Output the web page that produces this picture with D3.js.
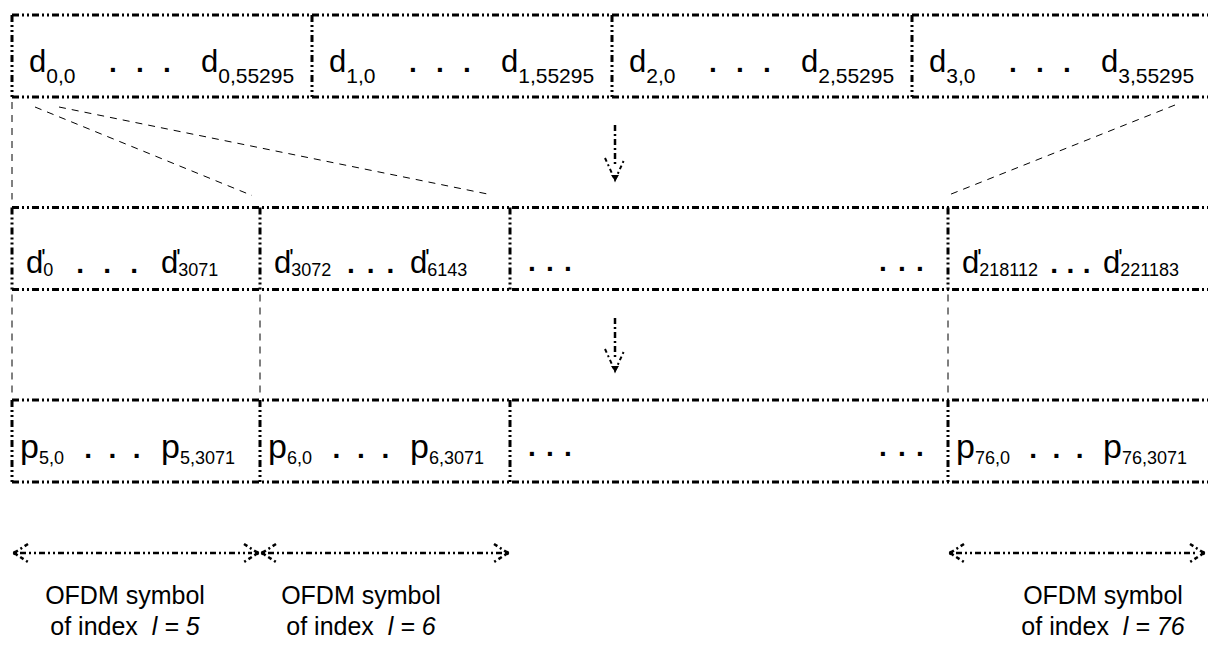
<!DOCTYPE html>
<html>
<head>
<meta charset="utf-8">
<style>
    html, body { margin: 0; padding: 0; background: #fff; }
    svg text { font-family: "Liberation Sans", Arial, sans-serif; fill: #000; }
</style>
</head>
<body>
<svg width="1208" height="657"></svg>
<script src="https://cdn.jsdelivr.net/npm/d3@7/dist/d3.min.js"></script>
<script>
    // --- data ---
    var codewords = [0, 1, 2, 3];
    var codewordLast = "55295";
    var slots = [0, 1, 2, 3];                 // slot 2 is the "..." gap
    var symbolIdx = ["5", "6", null, "76"];
    var interFirst = ["0", "3072", null, "218112"];
    var interLast = ["3071", "6143", null, "221183"];
    var subcarrierLast = "3071";

    // --- layout ---
    var svg = d3.select("svg");
    var W = 1208;
    var x0 = d3.scaleBand().domain(codewords).range([12, 1212]);
    var slotX = d3.scaleOrdinal().domain([0, 1, 2, 3, 4]).range([12, 260, 510, 948, 1212]);
    var rowY = d3.scalePoint().domain(["cw", "dp", "p"]).range([15, 400]);
    var rowH = 82;

    var boxDash = "7,3,2,3,2,3";
    var g = svg.append("g");

    function hline(x1, x2, y, w, dash) {
        g.append("line").attr("x1", x1).attr("x2", x2).attr("y1", y).attr("y2", y)
            .attr("stroke", "#000").attr("stroke-width", w).attr("stroke-dasharray", dash);
    }
    function vline(x, y1, y2, w, dash) {
        g.append("line").attr("x1", x).attr("x2", x).attr("y1", y1).attr("y2", y2)
            .attr("stroke", "#000").attr("stroke-width", w).attr("stroke-dasharray", dash);
    }

    function row(key, edges) {
        var y = rowY(key);
        hline(12, 1212, y, 3, boxDash);
        hline(12, 1212, y + rowH, 3, boxDash);
        edges.forEach(function (x) { vline(x, y, y + rowH, 3, boxDash); });
    }

    function sym(x, y, base, sub, o) {
        var t = g.append("text").attr("x", x).attr("y", y).attr("font-size", o.size).text(base);
        var w = t.node().getComputedTextLength();
        if (o.prime) {
            g.append("text").attr("x", x + w - 2).attr("y", y - 7).attr("font-size", 23).text("'");
        }
        var s = g.append("text").attr("x", x + w).attr("y", y + o.subDy).attr("font-size", o.subSize).text(sub);
        return x + w + s.node().getComputedTextLength();
    }

    function dots(xs, y, size) {
        xs.forEach(function (x) {
            g.append("text").attr("x", x).attr("y", y).attr("font-size", size)
                .attr("text-anchor", "middle").attr("font-weight", "bold").text(".");
        });
    }

    // row 1 : codewords
    row("cw", codewords.map(function (d) { return x0(d); }));
    codewords.forEach(function (i) {
        var left = x0(i), y = rowY("cw") + 57;
        var o = { size: 31, subSize: 21, subDy: 11 };
        sym(left + 17, y, "d", i + ",0", o);
        dots([left + 101, left + 128, left + 155], y, 28);
        sym(left + 189, y, "d", i + "," + codewordLast, o);
    });

    // rows 2 and 3 : interleaved d' and OFDM symbols p
    var slotEdges = [0, 1, 2, 3].map(function (k) { return slotX(k); });
    row("dp", slotEdges);
    row("p", slotEdges);

    slots.forEach(function (k) {
        var left = slotX(k), right = slotX(k + 1);
        var y2 = rowY("dp") + 65, y3 = rowY("p") + 58;
        if (symbolIdx[k] === null) {
            [y2, y3].forEach(function (y) {
                dots([left + 22, left + 40, left + 58], y - 2, 28);
                dots([slotX(3) - 65, slotX(3) - 46, slotX(3) - 28], y - 2, 28);
            });
            return;
        }
        var wid = (k === 3 ? 258 : right - left);
        var second = left + Math.round(wid * 0.6);
        var o2 = { size: 31, subSize: 18, subDy: 3, prime: true };
        var e = sym(left + 14, y2, "d", interFirst[k], o2);
        var step = (second - e) / 4;
        dots([e + step, e + 2 * step, e + 3 * step], y2, 28);
        sym(second, y2, "d", interLast[k], o2);

        var o3 = { size: 34, subSize: 18, subDy: 6 };
        var e3 = sym(left + 8, y3, "p", symbolIdx[k] + ",0", o3);
        var step3 = (second - e3) / 4;
        dots([e3 + step3, e3 + 2 * step3, e3 + 3 * step3], y3, 28);
        sym(second, y3, "p", symbolIdx[k] + "," + subcarrierLast, o3);
    });

    // thin dashed connectors
    var thin = "7,6";
    var yb1 = rowY("cw") + rowH, yt2 = rowY("dp"), yb2 = rowY("dp") + rowH, yt3 = rowY("p");
    vline(12, yb1 + 5, yt2 - 8, 1, thin);
    [12, slotX(1), slotX(3)].forEach(function (x) { vline(x, yb2 + 5, yt3 - 5, 1, thin); });
    function dline(x1, y1, x2, y2) {
        g.append("line").attr("x1", x1).attr("y1", y1).attr("x2", x2).attr("y2", y2)
            .attr("stroke", "#000").attr("stroke-width", 1).attr("stroke-dasharray", thin);
    }
    dline(35, yb1 + 10, slotX(1) - 8, yt2 - 12);
    dline(59, yb1 + 10, slotX(2) - 20, yt2 - 13);
    dline(1175, yb1 + 8, slotX(3) + 2, yt2 - 13);

    // down arrows
    function downArrow(x, y1, y2) {
        vline(x, y1, y2 - 14, 2.5, "6,3,2,3");
        g.append("path").attr("d", "M" + (x - 10) + "," + (y2 - 22) + "L" + x + "," + y2 + "L" + (x + 9) + "," + (y2 - 20))
            .attr("fill", "none").attr("stroke", "#000").attr("stroke-width", 2).attr("stroke-dasharray", "4,3,2,3");
        g.append("path").attr("d", "M" + (x - 4) + "," + (y2 - 5) + "L" + x + "," + (y2 + 1) + "L" + (x + 4) + "," + (y2 - 5) + "Z")
            .attr("fill", "#000");
    }
    downArrow(615, 125, 180);
    downArrow(615, 318, 371);

    // horizontal double arrows + labels
    var ay = 553;
    var labelOff = [113, 101, null, 155];
    function head(tipX, dir) {
        g.append("path")
            .attr("d", "M" + (tipX + dir * 14) + "," + (ay - 9) + "L" + tipX + "," + ay + "L" + (tipX + dir * 14) + "," + (ay + 9))
            .attr("fill", "none").attr("stroke", "#000").attr("stroke-width", 2.5).attr("stroke-dasharray", "4,3,2,3");
        g.append("circle").attr("cx", tipX + dir * 1).attr("cy", ay).attr("r", 2.2).attr("fill", "#000");
    }
    slots.forEach(function (k) {
        if (symbolIdx[k] === null) return;
        var a = slotX(k), b = Math.min(slotX(k + 1), W - 2);
        hline(a + 8, b - 8, ay, 2.5, "6,3,2,3,2,3");
        head(a + 2, 1);
        head(b - 2, -1);

        var cx = a + labelOff[k];
        g.append("text").attr("x", cx).attr("y", 604).attr("font-size", 25)
            .attr("text-anchor", "middle").text("OFDM symbol");
        var t = g.append("text").attr("x", cx).attr("y", 635).attr("font-size", 25)
            .attr("text-anchor", "middle").attr("xml:space", "preserve");
        t.append("tspan").text("of index  ");
        t.append("tspan").attr("font-style", "italic").text("l = " + symbolIdx[k]);
    });
</script>
</body>
</html>
